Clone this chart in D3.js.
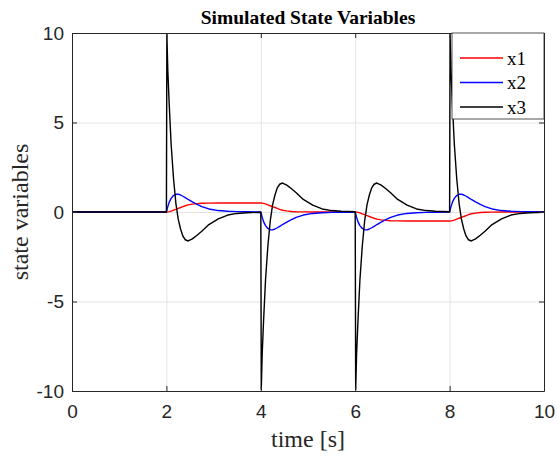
<!DOCTYPE html>
<html>
<head>
<meta charset="utf-8">
<script src="https://cdn.jsdelivr.net/npm/d3@7"></script>
<style>
  body { margin: 0; background: #fff; }
  svg { display: block; }
</style>
</head>
<body>
<svg id="chart" width="558" height="458"></svg>
<script>
// time samples [s] (steps at 2, 4, 6, 8)
var time = [0,
    2, 2.01, 2.03, 2.06, 2.1, 2.15, 2.2, 2.25, 2.3, 2.35, 2.4, 2.46, 2.55, 2.65, 2.75, 2.9, 3.1, 3.3, 3.5, 3.7,
    4, 4.01, 4.03, 4.06, 4.1, 4.15, 4.2, 4.25, 4.3, 4.35, 4.4, 4.46, 4.55, 4.65, 4.75, 4.9, 5.1, 5.3, 5.5, 5.7,
    6, 6.01, 6.03, 6.06, 6.1, 6.15, 6.2, 6.25, 6.3, 6.35, 6.4, 6.46, 6.55, 6.65, 6.75, 6.9, 7.1, 7.3, 7.5, 7.7,
    8, 8.01, 8.03, 8.06, 8.1, 8.15, 8.2, 8.25, 8.3, 8.35, 8.4, 8.46, 8.55, 8.65, 8.75, 8.9, 9.1, 9.3, 9.5, 9.7,
    10];

var x1 = [0,
    0, 0, 0.005, 0.02, 0.05, 0.1, 0.15, 0.2, 0.25, 0.3, 0.35, 0.4, 0.44, 0.47, 0.485, 0.495, 0.5, 0.5, 0.5, 0.5,
    0.5, 0.5, 0.495, 0.48, 0.45, 0.4, 0.35, 0.3, 0.25, 0.2, 0.15, 0.1, 0.06, 0.03, 0.015, 0.005, 0, 0, 0, 0,
    0, 0, -0.005, -0.02, -0.05, -0.1, -0.15, -0.2, -0.25, -0.3, -0.35, -0.4, -0.44, -0.47, -0.485, -0.495, -0.5, -0.5, -0.5, -0.5,
    -0.5, -0.5, -0.495, -0.48, -0.45, -0.4, -0.35, -0.3, -0.25, -0.2, -0.15, -0.1, -0.06, -0.03, -0.015, -0.005, 0, 0, 0, 0,
    0];

var x2 = [0,
    0, 0.1, 0.3, 0.55, 0.76, 0.92, 0.99, 1.0, 0.95, 0.88, 0.8, 0.7, 0.56, 0.43, 0.3, 0.17, 0.08, 0.04, 0.02, 0.01,
    0.005, -0.1, -0.3, -0.55, -0.76, -0.92, -0.99, -1.0, -0.95, -0.88, -0.8, -0.7, -0.56, -0.43, -0.3, -0.17, -0.08, -0.04, -0.02, -0.01,
    -0.005, -0.1, -0.3, -0.55, -0.76, -0.92, -0.99, -1.0, -0.95, -0.88, -0.8, -0.7, -0.56, -0.43, -0.3, -0.17, -0.08, -0.04, -0.02, -0.01,
    -0.005, 0.1, 0.3, 0.55, 0.76, 0.92, 0.99, 1.0, 0.95, 0.88, 0.8, 0.7, 0.56, 0.43, 0.3, 0.17, 0.08, 0.04, 0.02, 0.01,
    0.005];

var x3 = [0,
    0, 9.9, 7.9, 6.0, 3.8, 1.9, 0.5, -0.4, -0.95, -1.35, -1.55, -1.62, -1.5, -1.3, -1.08, -0.7, -0.38, -0.17, -0.08, -0.04,
    -0.01, -9.9, -7.9, -6.0, -3.8, -1.9, -0.5, 0.4, 0.95, 1.35, 1.55, 1.62, 1.5, 1.3, 1.08, 0.7, 0.38, 0.17, 0.08, 0.04,
    0.01, -9.9, -7.9, -6.0, -3.8, -1.9, -0.5, 0.4, 0.95, 1.35, 1.55, 1.62, 1.5, 1.3, 1.08, 0.7, 0.38, 0.17, 0.08, 0.04,
    0.01, 9.9, 7.9, 6.0, 3.8, 1.9, 0.5, -0.4, -0.95, -1.35, -1.55, -1.62, -1.5, -1.3, -1.08, -0.7, -0.38, -0.17, -0.08, -0.04,
    -0.01];

var seriesNames = ["x1", "x2", "x3"];
var seriesColors = ["#ff0000", "#0000ff", "#000000"];
var xTicks = [0, 2, 4, 6, 8, 10];
var yTicks = [-10, -5, 0, 5, 10];

var margin = {top: 33, right: 14, bottom: 67, left: 72},
    width = 558 - margin.left - margin.right,
    height = 458 - margin.top - margin.bottom;

var axisColor = "#262626",
    gridColor = "#e3e3e3",
    sansFont = "'Liberation Sans', Arial, sans-serif",
    serifFont = "'Liberation Serif', 'Times New Roman', serif";

// plain hyphen minus like the original, not the unicode one d3 uses
var plainFormat = function(d) { return String(d); };

var svg = d3.select("#chart");
var g = svg.append("g").attr("transform", "translate(" + margin.left + "," + margin.top + ")");

var x = d3.scaleLinear().domain([0, 10]).range([0, width]);
var y = d3.scaleLinear().domain([-10, 10]).range([height, 0]);

// grid
g.append("g").attr("class", "grid")
    .attr("transform", "translate(0," + height + ")")
    .call(d3.axisBottom(x).tickValues(xTicks).tickSize(-height).tickFormat(""))
    .call(function(s) { s.select(".domain").remove(); })
    .selectAll("line").attr("stroke", gridColor);
g.append("g").attr("class", "grid")
    .call(d3.axisLeft(y).tickValues(yTicks).tickSize(-width).tickFormat(""))
    .call(function(s) { s.select(".domain").remove(); })
    .selectAll("line").attr("stroke", gridColor);

// curves
g.append("clipPath").attr("id", "plotClip")
    .append("rect").attr("width", width).attr("height", height);

var series = [x1, x2, x3];
var line = d3.line()
    .x(function(d, i) { return x(time[i]); })
    .y(function(d) { return y(d); });

g.append("g").attr("clip-path", "url(#plotClip)")
    .selectAll("path.series")
    .data(series)
    .enter().append("path")
    .attr("class", "series")
    .attr("d", line)
    .attr("fill", "none")
    .attr("stroke", function(d, i) { return seriesColors[i]; })
    .attr("stroke-width", 1.4)
    .attr("stroke-linejoin", "round");

// axes box with inward ticks (mirrored on top / right)
var tickLen = 5;
var xAxis = g.append("g")
    .attr("transform", "translate(0," + height + ")")
    .call(d3.axisBottom(x).tickValues(xTicks).tickFormat(plainFormat)
        .tickSizeInner(-tickLen).tickSizeOuter(0).tickPadding(14));
g.append("g")
    .call(d3.axisTop(x).tickValues(xTicks).tickSizeInner(-tickLen).tickSizeOuter(0).tickFormat(""));
var yAxis = g.append("g")
    .call(d3.axisLeft(y).tickValues(yTicks).tickFormat(plainFormat)
        .tickSizeInner(-tickLen).tickSizeOuter(0).tickPadding(8));
g.append("g")
    .attr("transform", "translate(" + width + ",0)")
    .call(d3.axisRight(y).tickValues(yTicks).tickSizeInner(-tickLen).tickSizeOuter(0).tickFormat(""));

g.selectAll(".domain").attr("stroke", axisColor);
g.selectAll(".tick line").filter(function() { return !this.parentNode.parentNode.classList.contains("grid"); })
    .attr("stroke", axisColor);

xAxis.selectAll("text")
    .attr("fill", axisColor)
    .style("font-family", sansFont)
    .style("font-size", "19px");
yAxis.selectAll("text")
    .attr("fill", axisColor)
    .style("font-family", sansFont)
    .style("font-size", "19px");

// title and axis labels
svg.append("text")
    .attr("x", margin.left + width / 2)
    .attr("y", 24)
    .attr("text-anchor", "middle")
    .style("font-family", serifFont)
    .style("font-weight", "bold")
    .style("font-size", "19.5px")
    .text("Simulated State Variables");

svg.append("text")
    .attr("x", margin.left + width / 2)
    .attr("y", 447)
    .attr("text-anchor", "middle")
    .attr("fill", axisColor)
    .style("font-family", serifFont)
    .style("font-size", "24px")
    .text("time [s]");

svg.append("text")
    .attr("transform", "translate(28," + (margin.top + height / 2) + ") rotate(-90)")
    .attr("text-anchor", "middle")
    .attr("fill", axisColor)
    .style("font-family", serifFont)
    .style("font-size", "24px")
    .text("state variables");

// legend
var legend = g.append("g").attr("transform", "translate(" + (width - 92) + ",0)");
legend.append("rect")
    .attr("width", 92).attr("height", 86)
    .attr("fill", "#fff")
    .attr("stroke", axisColor)
    .attr("stroke-width", 0.8);
var item = legend.selectAll("g.item")
    .data(seriesNames)
    .enter().append("g")
    .attr("class", "item")
    .attr("transform", function(d, i) { return "translate(0," + (25 + i * 24.5) + ")"; });
item.append("line")
    .attr("x1", 8).attr("x2", 51)
    .attr("stroke", function(d, i) { return seriesColors[i]; })
    .attr("stroke-width", 1.4);
item.append("text")
    .attr("x", 55)
    .attr("dy", "0.35em")
    .style("font-family", serifFont)
    .style("font-size", "19px")
    .text(function(d) { return d; });
</script>
</body>
</html>
